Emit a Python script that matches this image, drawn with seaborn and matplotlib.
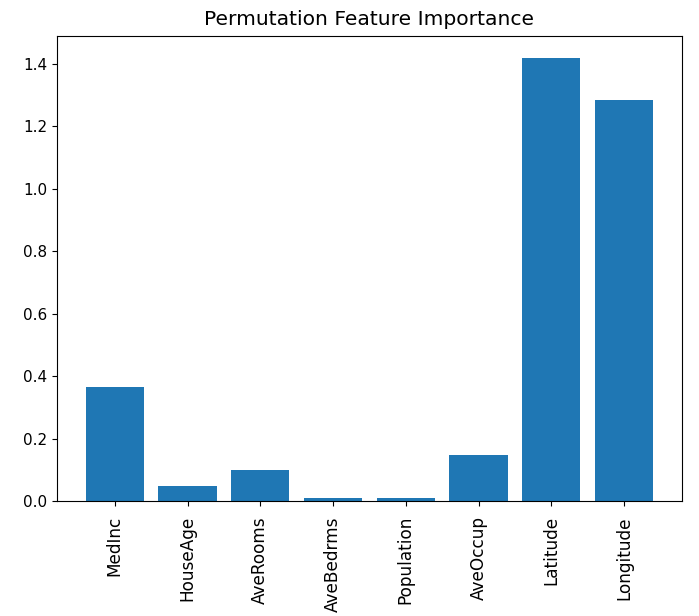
import matplotlib
matplotlib.use("Agg")
import matplotlib.pyplot as plt
import seaborn as sns
import pandas as pd

features = ["MedInc", "HouseAge", "AveRooms", "AveBedrms",
            "Population", "AveOccup", "Latitude", "Longitude"]
importance = [0.367, 0.050, 0.102, 0.010, 0.010, 0.150, 1.418, 1.285]

df = pd.DataFrame({"feature": features, "importance": importance})

plt.rcParams["font.family"] = ["DejaVu Sans"]
fig = plt.figure(figsize=(6.99, 6.16), dpi=100)
ax = fig.add_axes([0.082, 0.186, 0.893, 0.756])

sns.barplot(data=df, x="feature", y="importance", color="#1f77b4",
            saturation=1, width=0.8, ax=ax)

# same padding plain matplotlib bars get
n = len(features)
span = (n - 1) + 0.8
ax.set_xlim(-0.4 - 0.05 * span, n - 1 + 0.4 + 0.05 * span)
ax.set_ylim(0, max(importance) * 1.05)
ax.set_xlabel("")
ax.set_ylabel("")
ax.set_title("Permutation Feature Importance", fontsize=14.6, pad=8)
ax.tick_params(axis="y", labelsize=11)
ax.tick_params(axis="x", labelsize=12.2, pad=7)
plt.setp(ax.get_xticklabels(), rotation=90)

fig.savefig("out.png", dpi=100)
